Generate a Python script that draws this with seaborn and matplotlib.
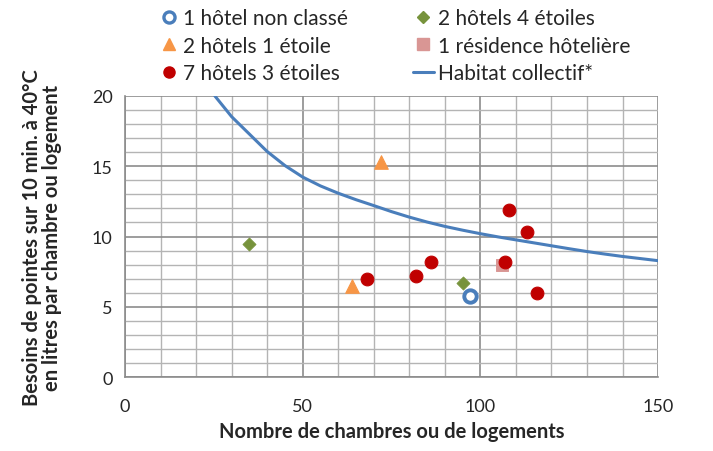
import matplotlib
matplotlib.use("Agg")
import matplotlib.pyplot as plt
import seaborn as sns
from matplotlib.lines import Line2D
from matplotlib.ticker import MultipleLocator

sns.set_style("white")
plt.rcParams['font.family'] = ['Lato', 'DejaVu Sans']

# --- data ---
nc_x = [97]; nc_y = [5.8]
e4_x = [35, 95]; e4_y = [9.5, 6.7]
e1_x = [72, 64]; e1_y = [15.3, 6.5]
res_x = [106]; res_y = [8.0]
e3_x = [68, 82, 86, 107, 108, 113, 116]
e3_y = [7.0, 7.2, 8.15, 8.15, 11.9, 10.3, 6.0]
curve_x = [25.3, 30, 35, 40, 45, 50, 55, 60, 65, 70, 75, 80, 85, 90, 95, 100,
           105, 110, 115, 120, 125, 130, 135, 140, 145, 150]
curve_y = [20.0, 18.53, 17.29, 16.05, 15.05, 14.23, 13.6, 13.08, 12.62, 12.2, 11.77,
           11.38, 11.03, 10.72, 10.45, 10.2, 9.97, 9.76, 9.55, 9.34, 9.13, 8.93,
           8.75, 8.58, 8.43, 8.28]

labels = ["1 hôtel non classé", "2 hôtels 1 étoile", "7 hôtels 3 étoiles",
          "2 hôtels 4 étoiles", "1 résidence hôtelière", "Habitat collectif*"]

fig = plt.figure(figsize=(7.13, 4.52), dpi=100)
ax = fig.add_axes([0.1753, 0.1637, 0.923 - 0.1753, 0.7854 - 0.1637])

blue = "#4a7ebb"; green = "#77933c"; orange = "#f79646"; pink = "#d99694"; red = "#c00000"

sns.lineplot(x=curve_x, y=curve_y, ax=ax, color=blue, lw=2.2, zorder=3)
sns.scatterplot(x=nc_x, y=nc_y, ax=ax, marker='o', s=80, facecolor='white',
                edgecolor=blue, linewidth=2.8, zorder=5)
sns.scatterplot(x=e4_x, y=e4_y, ax=ax, marker='D', s=45, color=green, edgecolor=green, zorder=5)
sns.scatterplot(x=e1_x, y=e1_y, ax=ax, marker='^', s=95, color=orange, edgecolor=orange, zorder=5)
sns.scatterplot(x=res_x, y=res_y, ax=ax, marker='s', s=70, color=pink, edgecolor=pink, zorder=4)
sns.scatterplot(x=e3_x, y=e3_y, ax=ax, marker='o', s=85, color=red, edgecolor=red, zorder=5)

ax.set_xlim(0, 150)
ax.set_ylim(0, 20)
ax.xaxis.set_major_locator(MultipleLocator(50))
ax.xaxis.set_minor_locator(MultipleLocator(10))
ax.yaxis.set_major_locator(MultipleLocator(5))
ax.yaxis.set_minor_locator(MultipleLocator(1))
ax.grid(which='minor', color='#b4b4b4', lw=1.0)
ax.grid(which='major', color='#8c8c8c', lw=1.2)
ax.set_axisbelow(True)
for s in ['top', 'right']:
    ax.spines[s].set_visible(False)
for s in ['left', 'bottom']:
    ax.spines[s].set_color('#8c8c8c')
    ax.spines[s].set_linewidth(1.2)
ax.tick_params(axis='x', which='major', direction='out', length=8, color='#8c8c8c', labelsize=13, pad=7)
ax.tick_params(axis='x', which='minor', direction='out', length=4, color='#8c8c8c')
ax.tick_params(axis='y', which='major', direction='out', length=5, color='#8c8c8c', labelsize=13, pad=4)
ax.tick_params(axis='y', which='minor', direction='in', length=5, color='#8c8c8c')

ax.set_xlabel("Nombre de chambres ou de logements", fontsize=14.5, fontweight='bold', labelpad=5)
ax.set_ylabel("Besoins de pointes sur 10 min. à 40°C\nen litres par chambre ou logement",
              fontsize=14.5, fontweight='bold', labelpad=21, linespacing=1.0)

handles = [
    Line2D([], [], ls='', marker='o', ms=8, mfc='white', mec=blue, mew=2.4),
    Line2D([], [], ls='', marker='^', ms=9, color=orange),
    Line2D([], [], ls='', marker='o', ms=8, color=red),
    Line2D([], [], ls='', marker='D', ms=6, color=green),
    Line2D([], [], ls='', marker='s', ms=8, color=pink),
    Line2D([], [], color=blue, lw=2.2),
]
fig.legend(handles, labels, ncol=2, loc='upper left', bbox_to_anchor=(0.209, 1.0),
           frameon=False, fontsize=15, handlelength=1.0, handletextpad=0.2,
           columnspacing=3.1, labelspacing=0.35, borderaxespad=0.05)

fig.savefig("out.png", dpi=100)
